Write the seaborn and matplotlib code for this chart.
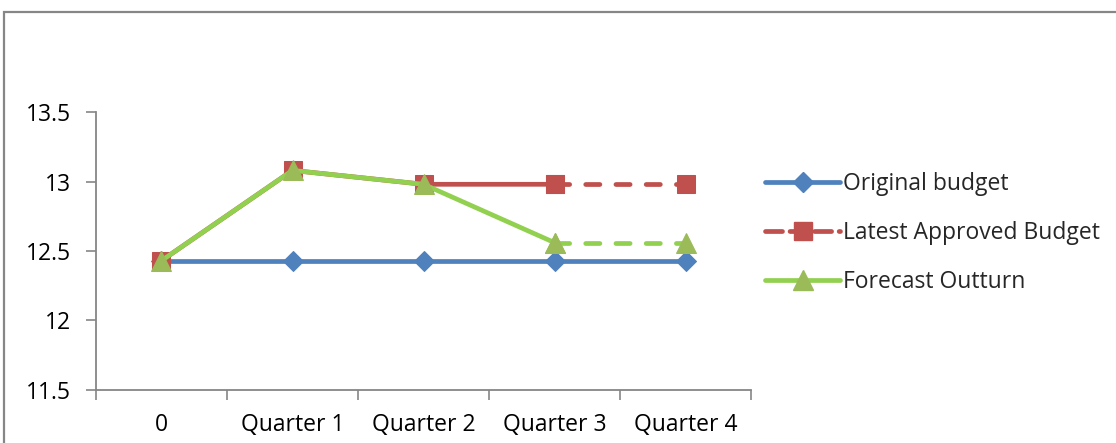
import matplotlib

matplotlib.use("Agg")
import matplotlib.pyplot as plt
import pandas as pd
import seaborn as sns
from matplotlib.lines import Line2D
from matplotlib.patches import Rectangle

sns.set_theme(style="white")
plt.rcParams["font.family"] = ["Open Sans", "DejaVu Sans"]

# %%
categories = ["0", "Quarter 1", "Quarter 2", "Quarter 3", "Quarter 4"]
original_budget = [12.43, 12.43, 12.43, 12.43, 12.43]
latest_budget = [12.43, 13.08, 12.98, 12.98, 12.98]
forecast_outturn = [12.43, 13.08, 12.98, 12.56, 12.56]
series_names = ["Original budget", "Latest Approved Budget", "Forecast Outturn"]

BLUE = "#4F81BD"
RED = "#C0504D"
GREEN_LINE = "#92D050"
GREEN_MARK = "#9BBB59"
GREY = "#868686"
FS = 16.5

# %%
df = pd.DataFrame(
    {
        "pos": range(len(categories)),
        "cat": categories,
        "orig": original_budget,
        "latest": latest_budget,
        "fcst": forecast_outturn,
    }
)
solid = df.iloc[:4]  # 0 .. Quarter 3
dashed = df.iloc[3:]  # Quarter 3 .. Quarter 4

fig = plt.figure(figsize=(11.16, 4.43), dpi=100)
ax = fig.add_axes([0.086, 0.12, 0.587, 0.627])

lw = 3.4
dash = dict(linestyle=(0, (3.0, 3.4)), dash_capstyle="round")

# original budget - solid throughout
sns.lineplot(data=df, x="pos", y="orig", ax=ax, color=BLUE, lw=lw, marker="D", ms=10.5,
             markeredgecolor=BLUE, solid_capstyle="round", zorder=3)

# latest approved budget
sns.lineplot(data=solid, x="pos", y="latest", ax=ax, color=RED, lw=lw, marker="s", ms=13,
             markeredgecolor=RED, solid_capstyle="round", zorder=4)
sns.lineplot(data=dashed, x="pos", y="latest", ax=ax, color=RED, lw=lw, marker="s", ms=13,
             markeredgecolor=RED, zorder=4, **dash)

# forecast outturn
sns.lineplot(data=solid, x="pos", y="fcst", ax=ax, color=GREEN_LINE, lw=lw, marker="^", ms=14,
             markerfacecolor=GREEN_MARK, markeredgecolor=GREEN_MARK, solid_capstyle="round", zorder=5)
sns.lineplot(data=dashed, x="pos", y="fcst", ax=ax, color=GREEN_LINE, lw=lw, marker="^", ms=14,
             markerfacecolor=GREEN_MARK, markeredgecolor=GREEN_MARK, zorder=5, **dash)

# %%
ax.set_xlim(-0.5, len(categories) - 0.5)
ax.set_ylim(11.5, 13.5)
ax.set_yticks([11.5, 12, 12.5, 13, 13.5])
ax.set_yticklabels(["11.5", "12", "12.5", "13", "13.5"])
# category boundaries get tick marks, labels sit in the middle
ax.set_xticks([i - 0.5 for i in range(len(categories) + 1)])
ax.set_xticklabels([])
ax.set_xticks(range(len(categories)), minor=True)
ax.set_xticklabels(categories, minor=True)
ax.tick_params(axis="x", which="major", direction="out", length=7, width=1.2, color=GREY, bottom=True)
ax.tick_params(axis="x", which="minor", length=0, pad=17, labelsize=FS, labelcolor="black")
ax.tick_params(axis="y", direction="out", length=7, width=1.2, color=GREY, left=True, pad=11,
               labelsize=FS, labelcolor="black")
ax.set_xlabel("")
ax.set_ylabel("")
for side in ["top", "right"]:
    ax.spines[side].set_visible(False)
for side in ["left", "bottom"]:
    ax.spines[side].set_color(GREY)
    ax.spines[side].set_linewidth(1.3)

# %%
handles = [
    Line2D([], [], color=BLUE, lw=lw, marker="D", ms=10.5, markeredgecolor=BLUE, solid_capstyle="round"),
    Line2D([], [], color=RED, lw=lw, marker="s", ms=13, markeredgecolor=RED,
           linestyle=(0, (3.6, 1.6)), dash_capstyle="round"),
    Line2D([], [], color=GREEN_LINE, lw=lw, marker="^", ms=14, markerfacecolor=GREEN_MARK,
           markeredgecolor=GREEN_MARK, solid_capstyle="round"),
]
fig.legend(handles, series_names, loc="upper left", bbox_to_anchor=(0.677, 0.632), frameon=False,
           fontsize=FS, handlelength=3.3, handletextpad=0.1, labelspacing=1.08, borderaxespad=0)

# outer chart-area border
fig.add_artist(Rectangle((0.0036, -0.1), 1.2, 1.072, transform=fig.transFigure, fill=False,
                         edgecolor=GREY, lw=1.6, clip_on=False))

fig.savefig("out.png", dpi=100)
